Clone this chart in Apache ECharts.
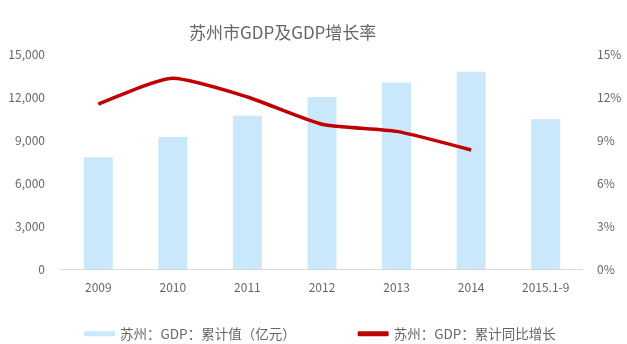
<!DOCTYPE html>
<html>
<head>
<meta charset="utf-8">
<script src="https://cdn.jsdelivr.net/npm/echarts@6/dist/echarts.min.js"></script>
<style>
html,body{margin:0;padding:0;background:#fff;}
#c{width:627px;height:344px;}
</style>
</head>
<body>
<div id="c"></div>
<script>
const categories = ['2009','2010','2011','2012','2013','2014','2015.1-9'];
const gdpValues = [7790, 9210, 10700, 12000, 13020, 13760, 10450];
const growthValues = [11.5, 13.3, 12.0, 10.1, 9.6, 8.3, null];
const leftTicks = [0, 3000, 6000, 9000, 12000, 15000];
const rightTicks = [0, 3, 6, 9, 12, 15];
const barName = '苏州：GDP：累计值（亿元）';
const lineName = '苏州：GDP：累计同比增长';

const font = '"Noto Sans CJK SC", "Noto Sans", sans-serif';
const txt = '#666666';
const chart = echarts.init(document.getElementById('c'), null, {renderer: 'canvas'});
chart.setOption({
  animation: false,
  backgroundColor: '#ffffff',
  textStyle: {fontFamily: font},
  title: {
    text: '苏州市GDP及GDP增长率',
    left: 184,
    top: 19,
    textStyle: {fontFamily: font, fontSize: 17, fontWeight: 'normal', color: txt}
  },
  legend: {
    left: 79,
    top: 322,
    itemWidth: 31,
    itemHeight: 5,
    itemGap: 62,
    textStyle: {fontFamily: font, fontSize: 13.5, color: txt},
    data: [
      {name: barName, icon: 'rect'},
      {name: lineName, icon: 'roundRect'}
    ]
  },
  grid: {left: 61, right: 44, top: 54, bottom: 75, containLabel: false},
  xAxis: {
    type: 'category',
    data: categories,
    axisLine: {lineStyle: {color: '#d9d9d9', width: 1}},
    axisTick: {show: false},
    axisLabel: {color: txt, fontSize: 12, margin: 12, fontFamily: font}
  },
  yAxis: [
    {
      type: 'value',
      min: leftTicks[0],
      max: leftTicks[leftTicks.length - 1],
      interval: leftTicks[1] - leftTicks[0],
      splitLine: {show: false},
      axisLine: {show: false},
      axisTick: {show: false},
      axisLabel: {
        color: txt, fontSize: 12, margin: 16, fontFamily: font,
        formatter: v => v.toLocaleString('en-US')
      }
    },
    {
      type: 'value',
      min: rightTicks[0],
      max: rightTicks[rightTicks.length - 1],
      interval: rightTicks[1] - rightTicks[0],
      splitLine: {show: false},
      axisLine: {show: false},
      axisTick: {show: false},
      axisLabel: {color: txt, fontSize: 12, margin: 14, fontFamily: font, formatter: '{value}%'}
    }
  ],
  series: [
    {
      name: barName,
      type: 'bar',
      data: gdpValues,
      barWidth: 29,
      itemStyle: {color: '#c9e8fb'},
      yAxisIndex: 0
    },
    {
      name: lineName,
      type: 'line',
      data: growthValues,
      yAxisIndex: 1,
      smooth: 0.2,
      showSymbol: false,
      symbol: 'none',
      lineStyle: {color: '#c00000', width: 3.5},
      itemStyle: {color: '#c00000'}
    }
  ]
});
</script>
</body>
</html>
